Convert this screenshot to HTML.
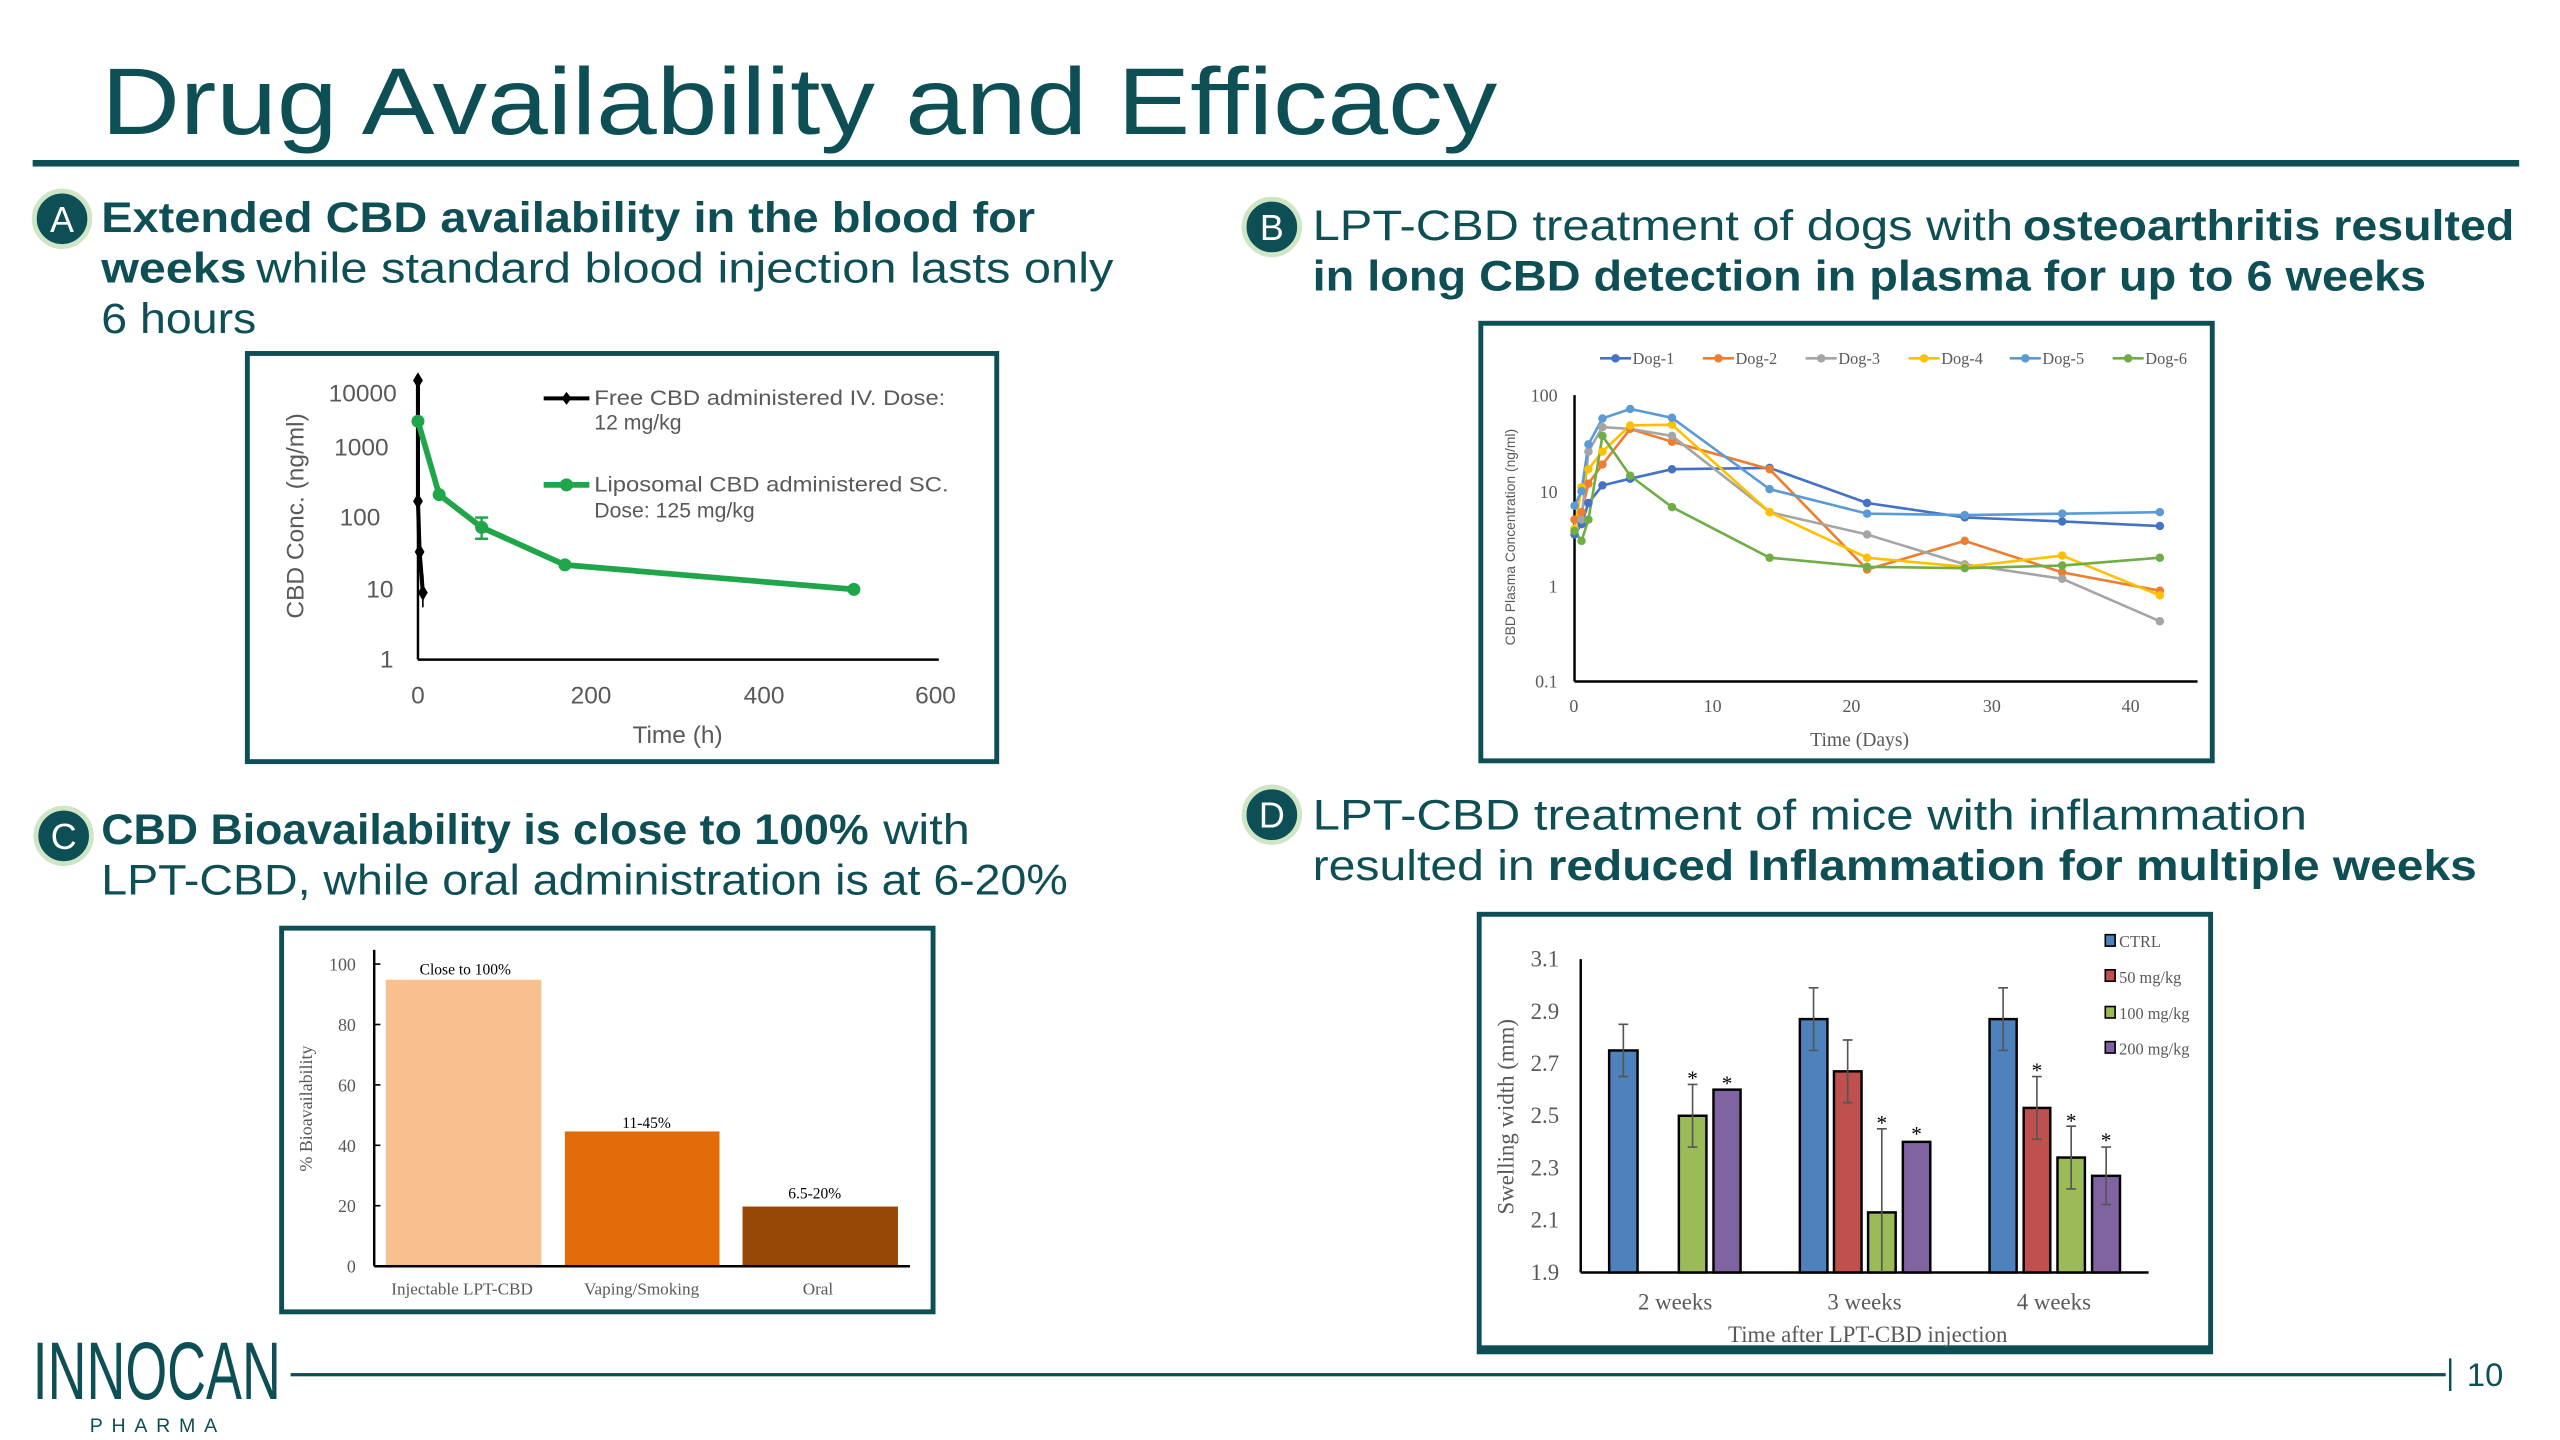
<!DOCTYPE html>
<html><head><meta charset="utf-8"><style>
html,body{margin:0;padding:0;background:#fff;}
svg{display:block;}
.t{fill:#0d4f55;font-family:"Liberation Sans",sans-serif;}
.b{font-weight:bold;}
.ax{fill:#595959;font-family:"Liberation Sans",sans-serif;}
.sr{fill:#595959;font-family:"Liberation Serif",serif;}
</style></head><body>
<svg width="2560" height="1440" viewBox="0 0 1568 882" xmlns="http://www.w3.org/2000/svg">
<rect width="1568" height="882" fill="#fff"/>
<!-- Title -->
<text class="t" x="62" y="82" font-size="58" textLength="855" lengthAdjust="spacingAndGlyphs">Drug Availability and Efficacy</text>
<rect x="20" y="98" width="1523" height="4" fill="#0d4f55"/>

<!-- Circles -->
<g font-family="Liberation Sans,sans-serif" font-size="22" fill="#fff" text-anchor="middle">
<circle cx="38" cy="134" r="17" fill="#0d4f55" stroke="#cfe6c6" stroke-width="3"/><text x="38" y="142">A</text>
<circle cx="779" cy="139" r="17" fill="#0d4f55" stroke="#cfe6c6" stroke-width="3"/><text x="779" y="147">B</text>
<circle cx="39" cy="512" r="17" fill="#0d4f55" stroke="#cfe6c6" stroke-width="3"/><text x="39" y="520">C</text>
<circle cx="779" cy="499" r="17" fill="#0d4f55" stroke="#cfe6c6" stroke-width="3"/><text x="779" y="507">D</text>
</g>

<!-- Headings -->
<g font-size="26">
<text class="t b" x="62" y="142" textLength="572" lengthAdjust="spacingAndGlyphs">Extended CBD availability in the blood for</text>
<text class="t b" x="62" y="173" textLength="89" lengthAdjust="spacingAndGlyphs">weeks</text>
<text class="t" x="157" y="173" textLength="525" lengthAdjust="spacingAndGlyphs">while standard blood injection lasts only</text>
<text class="t" x="62" y="204" textLength="95" lengthAdjust="spacingAndGlyphs">6 hours</text>

<text class="t" x="804" y="147" textLength="429" lengthAdjust="spacingAndGlyphs">LPT-CBD treatment of dogs with</text>
<text class="t b" x="1239" y="147" textLength="301" lengthAdjust="spacingAndGlyphs">osteoarthritis resulted</text>
<text class="t b" x="804" y="178" textLength="682" lengthAdjust="spacingAndGlyphs">in long CBD detection in plasma for up to 6 weeks</text>

<text class="t b" x="62" y="517" textLength="470" lengthAdjust="spacingAndGlyphs">CBD Bioavailability is close to 100%</text>
<text class="t" x="541" y="517" textLength="53" lengthAdjust="spacingAndGlyphs">with</text>
<text class="t" x="62" y="548" textLength="592" lengthAdjust="spacingAndGlyphs">LPT-CBD, while oral administration is at 6-20%</text>

<text class="t" x="804" y="508" textLength="609" lengthAdjust="spacingAndGlyphs">LPT-CBD treatment of mice with inflammation</text>
<text class="t" x="804" y="539" textLength="136" lengthAdjust="spacingAndGlyphs">resulted in</text>
<text class="t b" x="948" y="539" textLength="569" lengthAdjust="spacingAndGlyphs">reduced Inflammation for multiple weeks</text>
</g>

<!-- Chart A -->
<rect x="151.5" y="216.5" width="459" height="250" fill="#fff" stroke="#0d4f55" stroke-width="3"/>
<g stroke="#000" stroke-width="1.5" fill="none">
<line x1="256" y1="232" x2="256" y2="404"/><line x1="256" y1="404" x2="575" y2="404"/>
</g>
<g class="ax" font-size="15" text-anchor="end">
<text x="243" y="246">10000</text><text x="238" y="279">1000</text><text x="233" y="322">100</text><text x="241" y="366">10</text><text x="241" y="409">1</text>
</g>
<g class="ax" font-size="15" text-anchor="middle">
<text x="256" y="431">0</text><text x="362" y="431">200</text><text x="468" y="431">400</text><text x="573" y="431">600</text>
<text x="415" y="455">Time (h)</text>
<text transform="translate(186,316) rotate(-90)">CBD Conc. (ng/ml)</text>
</g>
<polyline points="256,233 256,307 257,338 259,363" fill="none" stroke="#000" stroke-width="2.5"/>
<g fill="#000">
<path d="M256,228 l3,5 -3,5 -3,-5z"/><path d="M256,302 l3,5 -3,5 -3,-5z"/><path d="M257,333 l3,5 -3,5 -3,-5z"/><path d="M259,358 l3,5 -3,5 -3,-5z"/>
</g>
<g stroke="#000" stroke-width="1"><line x1="259" y1="352" x2="259" y2="372"/><line x1="256" y1="298" x2="256" y2="316"/></g>
<polyline points="256,258 269,303 295,323 346,346 523,361" fill="none" stroke="#1fa64a" stroke-width="3.5"/>
<g fill="#1fa64a"><circle cx="256" cy="258" r="4"/><circle cx="269" cy="303" r="4"/><circle cx="295" cy="323" r="4"/><circle cx="346" cy="346" r="4"/><circle cx="523" cy="361" r="4"/></g>
<g stroke="#1fa64a" stroke-width="1.5"><line x1="295" y1="317" x2="295" y2="330"/><line x1="291" y1="317" x2="299" y2="317"/><line x1="291" y1="330" x2="299" y2="330"/></g>
<line x1="333" y1="244" x2="361" y2="244" stroke="#000" stroke-width="2.5"/><path d="M347,240 l3,4 -3,4 -3,-4z" fill="#000"/>
<line x1="333" y1="297" x2="361" y2="297" stroke="#1fa64a" stroke-width="3.5"/><circle cx="347" cy="297" r="4" fill="#1fa64a"/>
<g class="ax" font-size="13">
<text x="364" y="248" textLength="215" lengthAdjust="spacingAndGlyphs">Free CBD administered IV. Dose:</text>
<text x="364" y="263">12 mg/kg</text>
<text x="364" y="301" textLength="217" lengthAdjust="spacingAndGlyphs">Liposomal CBD administered SC.</text>
<text x="364" y="317">Dose: 125 mg/kg</text>
</g>

<!-- Chart B -->
<rect x="907" y="198" width="448" height="268" fill="#fff" stroke="#0d4f55" stroke-width="3"/>
<g stroke="#000" stroke-width="1.5"><line x1="964.4" y1="242" x2="964.4" y2="417.4"/><line x1="964.4" y1="417.4" x2="1346" y2="417.4"/></g>
<g class="sr" font-size="11" text-anchor="end">
<text x="954" y="246">100</text><text x="954" y="305">10</text><text x="954" y="363">1</text><text x="954" y="421">0.1</text>
</g>
<g class="sr" font-size="11" text-anchor="middle">
<text x="964" y="436">0</text><text x="1049" y="436">10</text><text x="1134" y="436">20</text><text x="1220" y="436">30</text><text x="1305" y="436">40</text>
<text x="1139" y="457" font-size="12">Time (Days)</text>
</g>
<text class="ax" font-size="8.5" text-anchor="middle" transform="translate(928,329) rotate(-90)">CBD Plasma Concentration (ng/ml)</text>
<g fill="none" stroke-width="1.6">
<polyline stroke="#4472C4" points="964.4,327.4 968.7,321 972.9,308.1 981.5,297.3 998.5,293.2 1024.1,287.4 1083.9,286.6 1143.6,308.1 1203.4,316.9 1263.1,319.4 1322.9,322.2"/>
<polyline stroke="#ED7D31" points="964.4,318.3 968.7,313.7 972.9,296.2 981.5,284.5 998.5,262.7 1024.1,270.6 1083.9,287.4 1143.6,348.8 1203.4,331.3 1263.1,350.6 1322.9,361.8"/>
<polyline stroke="#A5A5A5" points="964.4,318.3 968.7,318.3 972.9,276.6 981.5,261.6 998.5,262.7 1024.1,267 1083.9,313.7 1143.6,327.4 1203.4,345.7 1263.1,354.5 1322.9,380.5"/>
<polyline stroke="#FFC000" points="964.4,324 968.7,298.4 972.9,287.4 981.5,276.6 998.5,260.6 1024.1,260.1 1083.9,313.7 1143.6,341.6 1203.4,347.2 1263.1,340.3 1322.9,364.7"/>
<polyline stroke="#5B9BD5" points="964.4,309.8 968.7,300.8 972.9,272.2 981.5,256.3 998.5,250.5 1024.1,255.9 1083.9,299.6 1143.6,314.6 1203.4,315.5 1263.1,314.6 1322.9,313.7"/>
<polyline stroke="#70AD47" points="964.4,325.3 968.7,331.3 972.9,318.3 981.5,267 998.5,291.4 1024.1,310.6 1083.9,341.6 1143.6,347.2 1203.4,348 1263.1,346.4 1322.9,341.6"/>
</g>
<g>
<g fill="#4472C4"><circle cx="964.4" cy="327.4" r="2.6"/><circle cx="968.7" cy="321" r="2.6"/><circle cx="972.9" cy="308.1" r="2.6"/><circle cx="981.5" cy="297.3" r="2.6"/><circle cx="998.5" cy="293.2" r="2.6"/><circle cx="1024.1" cy="287.4" r="2.6"/><circle cx="1083.9" cy="286.6" r="2.6"/><circle cx="1143.6" cy="308.1" r="2.6"/><circle cx="1203.4" cy="316.9" r="2.6"/><circle cx="1263.1" cy="319.4" r="2.6"/><circle cx="1322.9" cy="322.2" r="2.6"/></g>
<g fill="#ED7D31"><circle cx="964.4" cy="318.3" r="2.6"/><circle cx="968.7" cy="313.7" r="2.6"/><circle cx="972.9" cy="296.2" r="2.6"/><circle cx="981.5" cy="284.5" r="2.6"/><circle cx="998.5" cy="262.7" r="2.6"/><circle cx="1024.1" cy="270.6" r="2.6"/><circle cx="1083.9" cy="287.4" r="2.6"/><circle cx="1143.6" cy="348.8" r="2.6"/><circle cx="1203.4" cy="331.3" r="2.6"/><circle cx="1263.1" cy="350.6" r="2.6"/><circle cx="1322.9" cy="361.8" r="2.6"/></g>
<g fill="#A5A5A5"><circle cx="968.7" cy="318.3" r="2.6"/><circle cx="972.9" cy="276.6" r="2.6"/><circle cx="981.5" cy="261.6" r="2.6"/><circle cx="1024.1" cy="267" r="2.6"/><circle cx="1083.9" cy="313.7" r="2.6"/><circle cx="1143.6" cy="327.4" r="2.6"/><circle cx="1203.4" cy="345.7" r="2.6"/><circle cx="1263.1" cy="354.5" r="2.6"/><circle cx="1322.9" cy="380.5" r="2.6"/></g>
<g fill="#FFC000"><circle cx="964.4" cy="324" r="2.6"/><circle cx="968.7" cy="298.4" r="2.6"/><circle cx="972.9" cy="287.4" r="2.6"/><circle cx="981.5" cy="276.6" r="2.6"/><circle cx="998.5" cy="260.6" r="2.6"/><circle cx="1024.1" cy="260.1" r="2.6"/><circle cx="1083.9" cy="313.7" r="2.6"/><circle cx="1143.6" cy="341.6" r="2.6"/><circle cx="1203.4" cy="347.2" r="2.6"/><circle cx="1263.1" cy="340.3" r="2.6"/><circle cx="1322.9" cy="364.7" r="2.6"/></g>
<g fill="#5B9BD5"><circle cx="964.4" cy="309.8" r="2.6"/><circle cx="968.7" cy="300.8" r="2.6"/><circle cx="972.9" cy="272.2" r="2.6"/><circle cx="981.5" cy="256.3" r="2.6"/><circle cx="998.5" cy="250.5" r="2.6"/><circle cx="1024.1" cy="255.9" r="2.6"/><circle cx="1083.9" cy="299.6" r="2.6"/><circle cx="1143.6" cy="314.6" r="2.6"/><circle cx="1203.4" cy="315.5" r="2.6"/><circle cx="1263.1" cy="314.6" r="2.6"/><circle cx="1322.9" cy="313.7" r="2.6"/></g>
<g fill="#70AD47"><circle cx="964.4" cy="325.3" r="2.6"/><circle cx="968.7" cy="331.3" r="2.6"/><circle cx="972.9" cy="318.3" r="2.6"/><circle cx="981.5" cy="267" r="2.6"/><circle cx="998.5" cy="291.4" r="2.6"/><circle cx="1024.1" cy="310.6" r="2.6"/><circle cx="1083.9" cy="341.6" r="2.6"/><circle cx="1143.6" cy="347.2" r="2.6"/><circle cx="1203.4" cy="348" r="2.6"/><circle cx="1263.1" cy="346.4" r="2.6"/><circle cx="1322.9" cy="341.6" r="2.6"/></g>
</g>
<!-- legend B -->
<g stroke-width="1.6">
<line x1="980" y1="219.5" x2="999" y2="219.5" stroke="#4472C4"/><circle cx="989.5" cy="219.5" r="2.6" fill="#4472C4"/>
<line x1="1043" y1="219.5" x2="1062" y2="219.5" stroke="#ED7D31"/><circle cx="1052.5" cy="219.5" r="2.6" fill="#ED7D31"/>
<line x1="1106" y1="219.5" x2="1125" y2="219.5" stroke="#A5A5A5"/><circle cx="1115.5" cy="219.5" r="2.6" fill="#A5A5A5"/>
<line x1="1169" y1="219.5" x2="1188" y2="219.5" stroke="#FFC000"/><circle cx="1178.5" cy="219.5" r="2.6" fill="#FFC000"/>
<line x1="1231" y1="219.5" x2="1250" y2="219.5" stroke="#5B9BD5"/><circle cx="1240.5" cy="219.5" r="2.6" fill="#5B9BD5"/>
<line x1="1294" y1="219.5" x2="1313" y2="219.5" stroke="#70AD47"/><circle cx="1303.5" cy="219.5" r="2.6" fill="#70AD47"/>
</g>
<g class="sr" font-size="10">
<text x="1000" y="223">Dog-1</text><text x="1063" y="223">Dog-2</text><text x="1126" y="223">Dog-3</text><text x="1189" y="223">Dog-4</text><text x="1251" y="223">Dog-5</text><text x="1314" y="223">Dog-6</text>
</g>

<!-- Chart C -->
<rect x="172.5" y="568.5" width="399" height="235" fill="#fff" stroke="#0d4f55" stroke-width="3"/>
<rect x="236.3" y="600.1" width="95.3" height="175.5" fill="#F8BF8F"/>
<rect x="346" y="693" width="94.7" height="82.6" fill="#E36C0A"/>
<rect x="454.8" y="739" width="95.2" height="36.6" fill="#974806"/>
<g stroke="#000" stroke-width="1.5"><line x1="229.2" y1="581.8" x2="229.2" y2="775.6"/><line x1="229.2" y1="775.6" x2="557.4" y2="775.6"/></g>
<g stroke="#000" stroke-width="1"><line x1="229" y1="590.5" x2="233" y2="590.5"/><line x1="229" y1="627.5" x2="233" y2="627.5"/><line x1="229" y1="664.5" x2="233" y2="664.5"/><line x1="229" y1="701.5" x2="233" y2="701.5"/><line x1="229" y1="738.5" x2="233" y2="738.5"/></g>
<g class="sr" font-size="11" text-anchor="end">
<text x="218" y="594.5">100</text><text x="218" y="631.5">80</text><text x="218" y="668.5">60</text><text x="218" y="705.5">40</text><text x="218" y="742.5">20</text><text x="218" y="779.5">0</text>
</g>
<g class="sr" font-size="10.5" text-anchor="middle">
<text x="283" y="793">Injectable LPT-CBD</text><text x="393" y="793">Vaping/Smoking</text><text x="501" y="793">Oral</text>
</g>
<g font-family="Liberation Serif,serif" font-size="9.5" fill="#000" text-anchor="middle">
<text x="285" y="597">Close to 100%</text><text x="396" y="691">11-45%</text><text x="499" y="734">6.5-20%</text>
</g>
<text class="sr" font-size="11" text-anchor="middle" transform="translate(191,679) rotate(-90)">% Bioavailability</text>

<!-- Chart D -->
<rect x="906" y="560" width="448" height="268" fill="#fff" stroke="#0d4f55" stroke-width="3"/>
<rect x="906" y="824" width="448" height="5" fill="#0d4f55"/>
<g stroke="#000" stroke-width="1.5"><line x1="968.2" y1="587.5" x2="968.2" y2="779.4"/><line x1="968.2" y1="779.4" x2="1316" y2="779.4"/></g>
<g class="sr" font-size="14" text-anchor="end">
<text x="955" y="592">3.1</text><text x="955" y="624">2.9</text><text x="955" y="656">2.7</text><text x="955" y="688">2.5</text><text x="955" y="720">2.3</text><text x="955" y="752">2.1</text><text x="955" y="784">1.9</text>
</g>
<g class="sr" font-size="14" text-anchor="middle">
<text x="1026" y="802">2 weeks</text><text x="1142" y="802">3 weeks</text><text x="1258" y="802">4 weeks</text>
<text x="1144" y="822">Time after LPT-CBD injection</text>
<text transform="translate(927,684) rotate(-90)">Swelling width (mm)</text>
</g>
<g stroke="#000" stroke-width="1.5">
<rect x="985.6" y="643.4" width="17.4" height="136" fill="#4F81BD"/>
<rect x="1028.3" y="683.4" width="16.9" height="96" fill="#9BBB59"/>
<rect x="1049.5" y="667.4" width="16.6" height="112" fill="#8064A2"/>
<rect x="1102.4" y="624.2" width="16.9" height="155.2" fill="#4F81BD"/>
<rect x="1123.3" y="656.2" width="16.9" height="123.2" fill="#C0504D"/>
<rect x="1144.2" y="742.6" width="16.9" height="36.8" fill="#9BBB59"/>
<rect x="1165.5" y="699.4" width="16.8" height="80" fill="#8064A2"/>
<rect x="1218.6" y="624.2" width="16.6" height="155.2" fill="#4F81BD"/>
<rect x="1239.5" y="678.6" width="16.3" height="100.8" fill="#C0504D"/>
<rect x="1260.2" y="709" width="16.8" height="70.4" fill="#9BBB59"/>
<rect x="1281.4" y="720.2" width="17.1" height="59.2" fill="#8064A2"/>
</g>
<g stroke="#555" stroke-width="1" fill="none">
<path d="M994.3,627.4V659.4M991.3,627.4h6M991.3,659.4h6"/>
<path d="M1036.7,664.2V702.6M1033.7,664.2h6M1033.7,702.6h6"/>
<path d="M1110.8,605V643.4M1107.8,605h6M1107.8,643.4h6"/>
<path d="M1131.7,637V675.4M1128.7,637h6M1128.7,675.4h6"/>
<path d="M1152.6,691.4V779M1149.6,691.4h6"/>
<path d="M1226.9,605V643.4M1223.9,605h6M1223.9,643.4h6"/>
<path d="M1247.6,659.4V697.8M1244.6,659.4h6M1244.6,697.8h6"/>
<path d="M1268.6,689.8V728.2M1265.6,689.8h6M1265.6,728.2h6"/>
<path d="M1290,702.6V737.8M1287,702.6h6M1287,737.8h6"/>
</g>
<g font-family="Liberation Serif,serif" font-size="13" fill="#000" text-anchor="middle">
<text x="1036.7" y="665">*</text><text x="1057.8" y="668">*</text><text x="1152.6" y="692">*</text><text x="1173.9" y="699">*</text>
<text x="1247.6" y="660">*</text><text x="1268.6" y="691">*</text><text x="1290" y="703">*</text>
</g>
<g stroke="#000" stroke-width="1">
<rect x="1289.5" y="572.5" width="6" height="7" fill="#4F81BD"/>
<rect x="1289.5" y="594" width="6" height="7" fill="#C0504D"/>
<rect x="1289.5" y="616.5" width="6" height="7" fill="#9BBB59"/>
<rect x="1289.5" y="638" width="6" height="7" fill="#8064A2"/>
</g>
<g class="sr" font-size="10">
<text x="1298" y="580">CTRL</text><text x="1298" y="602">50 mg/kg</text><text x="1298" y="624">100 mg/kg</text><text x="1298" y="646">200 mg/kg</text>
</g>

<!-- Footer -->
<text class="t" x="20" y="857" font-size="50" textLength="152" lengthAdjust="spacingAndGlyphs">INNOCAN</text>
<text class="t" x="55" y="877" font-size="12" textLength="78" lengthAdjust="spacing">PHARMA</text>
<rect x="178" y="841" width="1320" height="2" fill="#0d4f55"/>
<rect x="1500" y="832" width="1.5" height="20" fill="#0d4f55"/>
<text class="t" x="1511" y="849" font-size="20">10</text>
</svg>
</body></html>
